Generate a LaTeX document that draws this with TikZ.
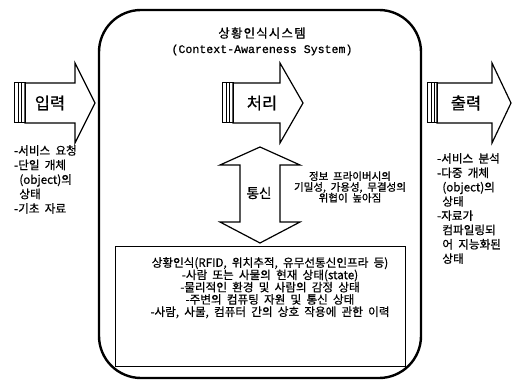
\documentclass[tikz,border=0pt]{standalone}
\usepackage{fontspec}
\setmainfont{Noto Sans CJK KR}[FakeBold=0.7, WordSpace=2]
\newfontfamily\monof{Liberation Mono}[FakeBold=0.8]
\tikzset{
  frame/.style={line width=2.4pt, rounded corners=42pt},
  fatarrow/.style={draw=black, line width=1.2pt, fill=white, line join=miter},
  bar/.style={line width=1pt},
  lbl/.style={inner sep=0pt, font=\fontsize{16.5}{18}\selectfont},
  lst/.style={inner sep=0pt, align=left, anchor=north west},
  box/.style={draw, line width=0.8pt},
}
\begin{document}
\begin{tikzpicture}[x=1pt,y=-1pt]
\useasboundingbox (0,0) rectangle (516,382);
% main frame
\draw[frame] (99,10) rectangle (421,378);
\node[inner sep=0pt, font=\fontsize{12.5}{14}\selectfont\addfontfeature{LetterSpace=9}] (title) at (262,33) {상황인식시스템};
\node[inner sep=0pt, font=\monof\fontsize{11.6}{14}\selectfont] (title2) at (262,50) {(Context-Awareness System)};
% input arrow
\draw[fatarrow] (25,83) -- (75,83) -- (75,63) -- (95,103) -- (75,143) -- (75,123) -- (25,123) -- cycle;
\draw[bar] (14,83) rectangle (25,123);
\draw[bar] (18,83) -- (18,123);
\draw[bar] (21,83) -- (21,123);
\node[lbl] (in) at (50,103) {입력};
\node[lst, font=\fontsize{11.6}{14.5}\selectfont] (inlist) at (14,145) {-서비스 요청\\-단일 개체\\\ (object)의\\\ 상태\\-기초 자료};
% process arrow
\draw[fatarrow] (233,83) -- (280,83) -- (280,63) -- (303,103) -- (280,143) -- (280,123) -- (233,123) -- cycle;
\draw[bar] (222,83) rectangle (233,123);
\draw[bar] (226,83) -- (226,123);
\draw[bar] (229,83) -- (229,123);
\node[lbl] (proc) at (262,103) {처리};
% output arrow
\draw[fatarrow] (437,83) -- (492,83) -- (492,63) -- (511,103) -- (492,143) -- (492,123) -- (437,123) -- cycle;
\draw[bar] (427,83) rectangle (437,123);
\draw[bar] (431,83) -- (431,123);
\draw[bar] (434,83) -- (434,123);
\node[lbl] (out) at (466,103) {출력};
\node[lst, font=\fontsize{11.6}{14.3}\selectfont] (outlist) at (437,153) {-서비스 분석\\-다중 개체\\\ (object)의\\\ 상태\\-자료가\\\ 컴파일링되\\\ 어 지능화된\\\ 상태};
% double arrow
\draw[fatarrow] (260,147) -- (300,165) -- (280,165) -- (280,222) -- (300,222) -- (260,243) -- (220,222) -- (240,222) -- (240,165) -- (220,165) -- cycle;
\node[inner sep=0pt, font=\fontsize{13.5}{15}\selectfont] (comm) at (259,193) {통신};
\node[inner sep=0pt, align=center, font=\fontsize{10.5}{10.8}\selectfont] (risk) at (350,187) {정보 프라이버시의\\기밀성, 가용성, 무결성의\\위협이 높아짐};
% bottom box
\draw[box] (115,246) rectangle (405,366);
\node[inner sep=0pt, align=center, font=\fontsize{11.6}{12.3}\selectfont, anchor=north] (ctx) at (270,257) {상황인식(RFID, 위치추적, 유무선통신인프라 등)\\-사람 또는 사물의 현재 상태(state)\\-물리적인 환경 및 사람의 감정 상태\\-주변의 컴퓨팅 자원 및 통신 상태\\-사람, 사물, 컴퓨터 간의 상호 작용에 관한 이력};
\end{tikzpicture}
\end{document}
